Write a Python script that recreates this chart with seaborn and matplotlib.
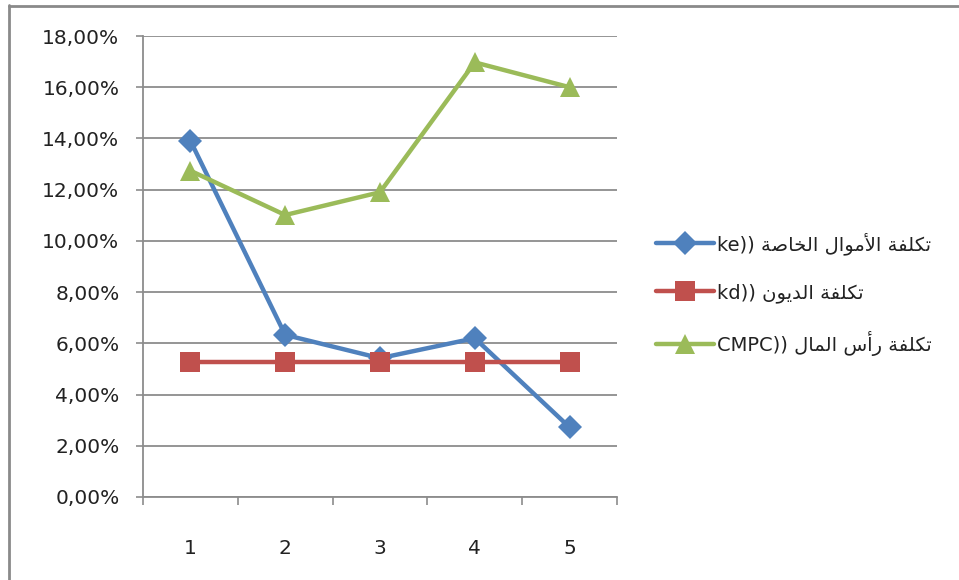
import matplotlib
matplotlib.use("Agg")
import matplotlib.pyplot as plt
from matplotlib.lines import Line2D
from matplotlib.ticker import FixedLocator, FuncFormatter
import pandas as pd
import seaborn as sns

# ---- data -------------------------------------------------------------
periods = [1, 2, 3, 4, 5]
ke_values = [13.91, 6.33, 5.42, 6.20, 2.72]        # cost of equity (%)
kd_values = [5.26, 5.26, 5.26, 5.26, 5.26]         # cost of debt (%)
cmpc_values = [12.74, 11.01, 11.90, 16.97, 16.00]  # WACC (%)

label_ke = ("تكلفة الأموال الخاصة", "ke))")
label_kd = ("تكلفة الديون", "kd))")
label_cmpc = ("تكلفة رأس المال", "CMPC))")
y_ticks = [0, 2, 4, 6, 8, 10, 12, 14, 16, 18]

# ---- minimal Arabic shaping (matplotlib draws glyphs left to right) ----
# letter: (isolated, final, initial, medial); right-joining letters have no
# initial/medial forms
FORMS = {
    "ا": ("\uFE8D", "\uFE8E", None, None),
    "أ": ("\uFE83", "\uFE84", None, None),
    "ة": ("\uFE93", "\uFE94", None, None),
    "و": ("\uFEED", "\uFEEE", None, None),
    "د": ("\uFEA9", "\uFEAA", None, None),
    "ر": ("\uFEAD", "\uFEAE", None, None),
    "ت": ("\uFE95", "\uFE96", "\uFE97", "\uFE98"),
    "ك": ("\uFED9", "\uFEDA", "\uFEDB", "\uFEDC"),
    "ل": ("\uFEDD", "\uFEDE", "\uFEDF", "\uFEE0"),
    "ف": ("\uFED1", "\uFED2", "\uFED3", "\uFED4"),
    "م": ("\uFEE1", "\uFEE2", "\uFEE3", "\uFEE4"),
    "خ": ("\uFEA5", "\uFEA6", "\uFEA7", "\uFEA8"),
    "ص": ("\uFEB9", "\uFEBA", "\uFEBB", "\uFEBC"),
    "ي": ("\uFEF1", "\uFEF2", "\uFEF3", "\uFEF4"),
    "ن": ("\uFEE5", "\uFEE6", "\uFEE7", "\uFEE8"),
    "س": ("\uFEB1", "\uFEB2", "\uFEB3", "\uFEB4"),
}
LAM_ALEF = {"ا": ("\uFEFB", "\uFEFC"), "أ": ("\uFEF7", "\uFEF8")}


def dual(ch):
    return ch in FORMS and FORMS[ch][2] is not None


def shape_word(word):
    out = []
    i = 0
    while i < len(word):
        ch = word[i]
        prev = word[i - 1] if i > 0 else None
        joins_prev = prev is not None and dual(prev)
        if ch == "ل" and i + 1 < len(word) and word[i + 1] in LAM_ALEF:
            iso, fin = LAM_ALEF[word[i + 1]]
            out.append(fin if joins_prev else iso)
            i += 2
            continue
        nxt = word[i + 1] if i + 1 < len(word) else None
        joins_next = dual(ch) and nxt is not None and nxt in FORMS
        iso, fin, ini, med = FORMS[ch]
        if joins_prev and joins_next:
            out.append(med)
        elif joins_prev:
            out.append(fin)
        elif joins_next:
            out.append(ini)
        else:
            out.append(iso)
        i += 1
    return "".join(out)


def visual(label):
    arabic, latin = label
    shaped = " ".join(shape_word(w) for w in arabic.split(" "))
    return latin + " " + shaped[::-1]


# ---- figure -----------------------------------------------------------
sns.set_theme(style="white")
plt.rcParams["font.family"] = ["DejaVu Sans"]

fig = plt.figure(figsize=(9.59, 5.80), dpi=100)
ax = fig.add_axes([143 / 959, 1 - 497 / 580, 474 / 959, 461 / 580])

df = pd.DataFrame({"period": periods, "ke": ke_values,
                   "kd": kd_values, "cmpc": cmpc_values})

series = [
    ("ke", label_ke, "#4F81BD", "D", 12),
    ("kd", label_kd, "#C0504D", "s", 14),
    ("cmpc", label_cmpc, "#9BBB59", "^", 15),
]
for col, lab, color, marker, ms in series:
    sns.lineplot(data=df, x="period", y=col, ax=ax, color=color,
                 linewidth=3.2, marker=marker, markersize=ms,
                 markeredgewidth=0, label=visual(lab), zorder=3)

ax.set_xlim(0.5, 5.5)
ax.set_ylim(0, 18)
ax.set_xlabel("")
ax.set_ylabel("")

grid_c = "#8C8C8C"
ax.yaxis.set_major_locator(FixedLocator(y_ticks))
ax.yaxis.set_major_formatter(FuncFormatter(lambda v, p: f"{v:.2f}%".replace(".", ",")))
ax.grid(axis="y", color=grid_c, linewidth=1.3)
ax.set_axisbelow(True)

ax.set_xticks(periods)
ax.set_xticklabels([str(p) for p in periods])
ax.xaxis.set_minor_locator(FixedLocator([0.5, 1.5, 2.5, 3.5, 4.5, 5.5]))
ax.tick_params(axis="x", which="major", length=0, pad=30, labelsize=14.5,
               colors="#222222")
ax.tick_params(axis="x", which="minor", length=6, width=1.2, color=grid_c,
               bottom=True)
ax.tick_params(axis="y", which="major", length=5, width=1.2, color=grid_c,
               pad=12, labelsize=14.5, left=True, labelcolor="#222222")

for side in ("top", "right"):
    ax.spines[side].set_visible(False)
for side in ("left", "bottom"):
    ax.spines[side].set_color(grid_c)
    ax.spines[side].set_linewidth(1.3)

leg = ax.legend(loc="center left", bbox_to_anchor=(646 / 959, 1 - 294 / 580),
                bbox_transform=fig.transFigure, frameon=False,
                fontsize=14, handlelength=3.0, handletextpad=0.15,
                labelspacing=1.45, borderpad=0)
for t in leg.get_texts():
    t.set_color("#222222")

# chart frame (left and top edges)
frame_c = "#8A8A8A"
fig.add_artist(Line2D([9 / 959, 9 / 959], [0, 1 - 5 / 580],
                      transform=fig.transFigure, color=frame_c, linewidth=2))
fig.add_artist(Line2D([9 / 959, 1], [1 - 6 / 580, 1 - 6 / 580],
                      transform=fig.transFigure, color=frame_c, linewidth=2))

fig.savefig("out.png", dpi=100)
